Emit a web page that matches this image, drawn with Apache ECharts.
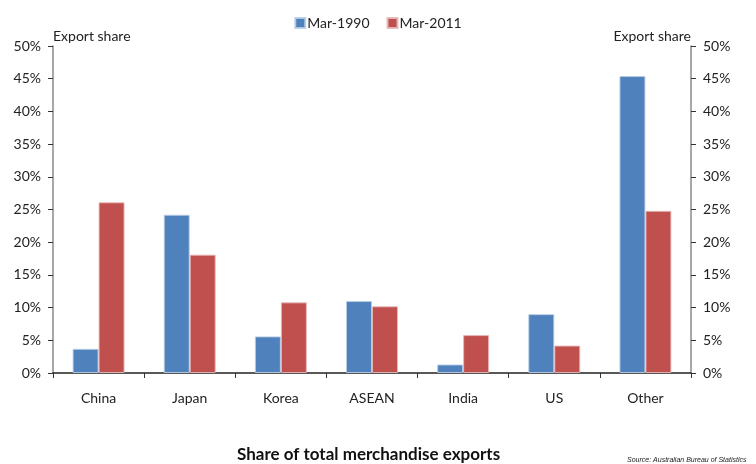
<!DOCTYPE html>
<html>
<head>
<meta charset="utf-8">
<script src="https://cdn.jsdelivr.net/npm/echarts@6/dist/echarts.min.js"></script>
<style>
  html, body { margin: 0; padding: 0; background: #fff; }
  #chart { width: 756px; height: 464px; }
</style>
</head>
<body>
<div id="chart"></div>
<script>
// Export destinations and their share of total merchandise exports (%)
const categories = ['China', 'Japan', 'Korea', 'ASEAN', 'India', 'US', 'Other'];
const share1990 = [3.7, 24.2, 5.6, 11.0, 1.3, 9.0, 45.4];
const share2011 = [26.1, 18.1, 10.8, 10.2, 5.8, 4.2, 24.8];
const seriesNames = ['Mar-1990', 'Mar-2011'];
const axisTitle = 'Export share';
const chartTitle = 'Share of total merchandise exports';
const sourceNote = 'Source: Australian Bureau of Statistics';

const FONT = 'Lato, "Open Sans", sans-serif';
const chart = echarts.init(document.getElementById('chart'));

function valueAxis(position, align) {
  return {
    type: 'value',
    position: position,
    min: 0,
    max: 50,
    interval: 5,
    name: axisTitle,
    nameLocation: 'end',
    nameGap: 3,
    nameTextStyle: { fontFamily: FONT, fontSize: 14, color: '#222', align: align, verticalAlign: 'bottom' },
    axisLine: { show: true, lineStyle: { color: '#8a8a8a', width: 1.5 } },
    axisTick: { show: true, inside: false, length: 5, lineStyle: { color: '#333' } },
    axisLabel: { formatter: '{value}%', fontFamily: FONT, fontSize: 14, color: '#222', margin: 12 },
    splitLine: { show: false }
  };
}

chart.setOption({
  animation: false,
  textStyle: { fontFamily: FONT },
  legend: {
    top: 11,
    left: 'center',
    itemWidth: 10,
    itemHeight: 10,
    itemGap: 17,
    icon: 'rect',
    textStyle: { fontFamily: FONT, fontSize: 14, color: '#222', padding: [0, 0, 0, -3] },
    data: seriesNames
  },
  grid: { left: 53, right: 65, top: 46, bottom: 91, containLabel: false },
  xAxis: {
    type: 'category',
    data: categories,
    axisLine: { lineStyle: { color: '#222', width: 1.5 } },
    axisTick: { show: true, length: 5, alignWithLabel: false, lineStyle: { color: '#333' } },
    axisLabel: { fontFamily: FONT, fontSize: 14, color: '#222', margin: 18 }
  },
  yAxis: [valueAxis('left', 'left'), valueAxis('right', 'right')],
  series: [
    {
      name: seriesNames[0],
      type: 'bar',
      data: share1990,
      barGap: '0%',
      barCategoryGap: '43%',
      itemStyle: { color: '#4F81BD', borderColor: 'rgba(185,205,229,0.9)', borderWidth: 1 }
    },
    {
      name: seriesNames[1],
      type: 'bar',
      data: share2011,
      barGap: '0%',
      barCategoryGap: '43%',
      itemStyle: { color: '#C0504D', borderColor: 'rgba(230,185,184,0.9)', borderWidth: 1 }
    }
  ],
  graphic: [
    {
      type: 'text',
      left: 237,
      top: 446,
      style: { text: chartTitle, font: 'bold 17px ' + FONT, fill: '#111' }
    },
    {
      type: 'text',
      left: 627,
      top: 457,
      style: { text: sourceNote, font: 'italic 7px "Liberation Sans Narrow", "Liberation Sans", sans-serif', fill: '#222' }
    }
  ]
});
</script>
</body>
</html>
